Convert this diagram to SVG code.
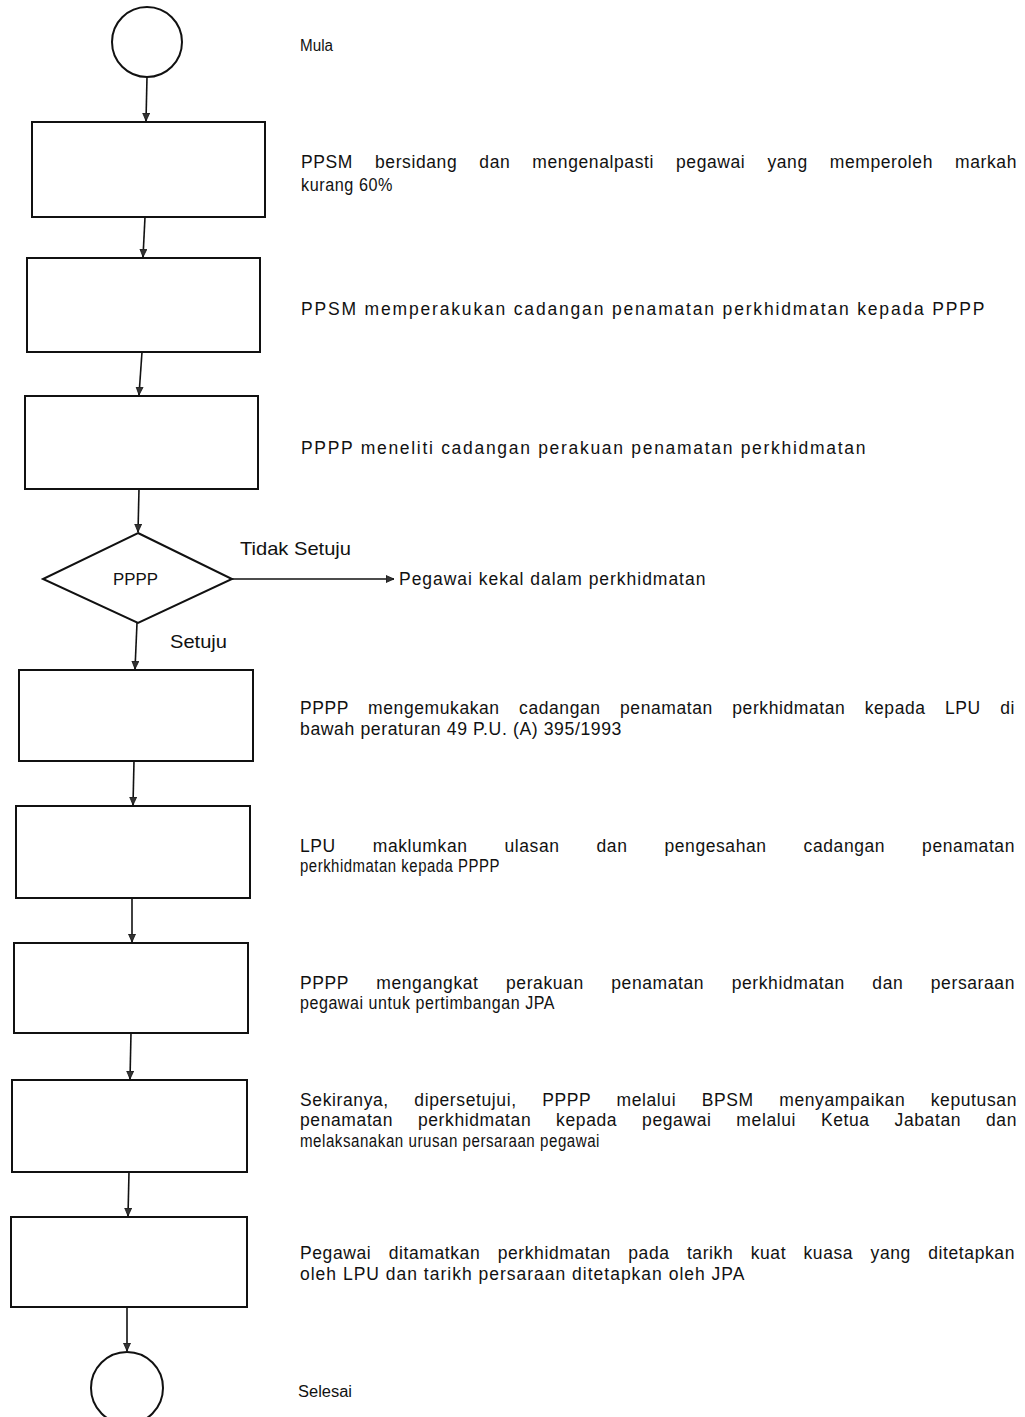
<svg xmlns="http://www.w3.org/2000/svg" width="1025" height="1417" viewBox="0 0 1025 1417">
<style>
.node{fill:#fff;stroke:#111;stroke-width:2}
.conn{fill:none;stroke:#111;stroke-width:1.6}
.t{font-family:"Liberation Sans",Arial,sans-serif;font-size:17.5px;letter-spacing:0.6px;fill:#111}
.s{font-family:"Liberation Sans",Arial,sans-serif;font-size:16px;fill:#111}
.lbl{font-family:"Liberation Sans",Arial,sans-serif;font-size:18.5px;fill:#111}
</style>
<defs>
<marker id="ah" markerUnits="userSpaceOnUse" markerWidth="10" markerHeight="10" refX="8" refY="4" orient="auto">
<path d="M0,0.5 L8,4 L0,7.5 Z" fill="#333" stroke="#111" stroke-width="0.8"/>
</marker>
</defs>
<rect width="1025" height="1417" fill="#fff"/>
<g id="connectors">
<line class="conn" x1="147" y1="77" x2="146" y2="121" marker-end="url(#ah)"/>
<line class="conn" x1="145" y1="217" x2="143" y2="257" marker-end="url(#ah)"/>
<line class="conn" x1="142" y1="352" x2="139" y2="395" marker-end="url(#ah)"/>
<line class="conn" x1="139" y1="489" x2="138" y2="532" marker-end="url(#ah)"/>
<line class="conn" x1="232" y1="579" x2="394" y2="579" marker-end="url(#ah)"/>
<line class="conn" x1="137" y1="623" x2="135" y2="669" marker-end="url(#ah)"/>
<line class="conn" x1="134" y1="761" x2="133" y2="805" marker-end="url(#ah)"/>
<line class="conn" x1="132" y1="898" x2="132" y2="942" marker-end="url(#ah)"/>
<line class="conn" x1="131" y1="1033" x2="130" y2="1079" marker-end="url(#ah)"/>
<line class="conn" x1="129" y1="1172" x2="128" y2="1216" marker-end="url(#ah)"/>
<line class="conn" x1="127" y1="1307" x2="127" y2="1351" marker-end="url(#ah)"/>
<text class="lbl" x="240" y="555" textLength="111" lengthAdjust="spacingAndGlyphs">Tidak Setuju</text>
<text class="lbl" x="170" y="648" textLength="57" lengthAdjust="spacingAndGlyphs">Setuju</text>
</g>
<g id="start">
<circle class="node" cx="147" cy="42" r="35"/>
<text class="s" x="300" y="51" textLength="33" lengthAdjust="spacingAndGlyphs">Mula</text>
</g>
<g id="step1">
<rect class="node" x="32" y="122" width="233" height="95"/>
<text class="t" x="301" y="168" word-spacing="16.6" textLength="716" lengthAdjust="spacing">PPSM bersidang dan mengenalpasti pegawai yang memperoleh markah</text>
<text class="t" x="301" y="191" textLength="92" lengthAdjust="spacingAndGlyphs">kurang 60%</text>
</g>
<g id="step2">
<rect class="node" x="27" y="258" width="233" height="94"/>
<text class="t" x="301" y="315" textLength="684" lengthAdjust="spacing">PPSM memperakukan cadangan penamatan perkhidmatan kepada PPPP</text>
</g>
<g id="step3">
<rect class="node" x="25" y="396" width="233" height="93"/>
<text class="t" x="301" y="454" textLength="565" lengthAdjust="spacing">PPPP meneliti cadangan perakuan penamatan perkhidmatan</text>
</g>
<g id="decision">
<polygon class="node" points="138,533 232,579 138,623 43,579"/>
<text class="s" x="113" y="585" textLength="45" lengthAdjust="spacingAndGlyphs">PPPP</text>
</g>
<g id="outcome-no">
<text class="t" x="399" y="585" textLength="307" lengthAdjust="spacing">Pegawai kekal dalam perkhidmatan</text>
</g>
<g id="step4">
<rect class="node" x="19" y="670" width="234" height="91"/>
<text class="t" x="300" y="714" word-spacing="13.9" textLength="715" lengthAdjust="spacing">PPPP mengemukakan cadangan penamatan perkhidmatan kepada LPU di</text>
<text class="t" x="300" y="735" textLength="322" lengthAdjust="spacingAndGlyphs">bawah peraturan 49 P.U. (A) 395/1993</text>
</g>
<g id="step5">
<rect class="node" x="16" y="806" width="234" height="92"/>
<text class="t" x="300" y="852" word-spacing="31.5" textLength="715" lengthAdjust="spacing">LPU maklumkan ulasan dan pengesahan cadangan penamatan</text>
<text class="t" x="300" y="872" textLength="200" lengthAdjust="spacingAndGlyphs">perkhidmatan kepada PPPP</text>
</g>
<g id="step6">
<rect class="node" x="14" y="943" width="234" height="90"/>
<text class="t" x="300" y="989" word-spacing="22" textLength="715" lengthAdjust="spacing">PPPP mengangkat perakuan penamatan perkhidmatan dan persaraan</text>
<text class="t" x="300" y="1009" textLength="255" lengthAdjust="spacingAndGlyphs">pegawai untuk pertimbangan JPA</text>
</g>
<g id="step7">
<rect class="node" x="12" y="1080" width="235" height="92"/>
<text class="t" x="300" y="1106" word-spacing="20" textLength="717" lengthAdjust="spacing">Sekiranya, dipersetujui, PPPP melalui BPSM menyampaikan keputusan</text>
<text class="t" x="300" y="1126" word-spacing="19.4" textLength="717" lengthAdjust="spacing">penamatan perkhidmatan kepada pegawai melalui Ketua Jabatan dan</text>
<text class="t" x="300" y="1147" textLength="300" lengthAdjust="spacingAndGlyphs">melaksanakan urusan persaraan pegawai</text>
</g>
<g id="step8">
<rect class="node" x="11" y="1217" width="236" height="90"/>
<text class="t" x="300" y="1259" word-spacing="11.9" textLength="715" lengthAdjust="spacing">Pegawai ditamatkan perkhidmatan pada tarikh kuat kuasa yang ditetapkan</text>
<text class="t" x="300" y="1280" textLength="445" lengthAdjust="spacing">oleh LPU dan tarikh persaraan ditetapkan oleh JPA</text>
</g>
<g id="end">
<circle class="node" cx="127" cy="1388" r="36"/>
<text class="s" x="298" y="1397" textLength="54" lengthAdjust="spacingAndGlyphs">Selesai</text>
</g>
</svg>
